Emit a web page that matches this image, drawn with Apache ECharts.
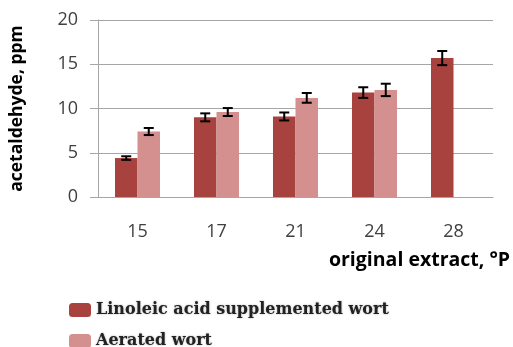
<!DOCTYPE html>
<html>
<head>
<meta charset="utf-8">
<script src="https://cdn.jsdelivr.net/npm/echarts@6/dist/echarts.min.js"></script>
<style>
  html, body { margin: 0; padding: 0; background: #fff; }
  #chart { width: 513px; height: 347px; }
</style>
</head>
<body>
<div id="chart"></div>
<script>
// Original extract of the wort (°P)
const categories = ['15', '17', '21', '24', '28'];
// Acetaldehyde, ppm
const linoleicValues = [4.4, 9.0, 9.1, 11.8, 15.7];
const linoleicErrors = [0.2, 0.45, 0.45, 0.6, 0.8];
const aeratedValues = [7.4, 9.6, 11.2, 12.1, null];
const aeratedErrors = [0.4, 0.45, 0.55, 0.7, null];
const yTicks = [0, 5, 10, 15, 20];
const seriesNames = ['Linoleic acid supplemented wort', 'Aerated wort'];

const darkRed = '#A8423F';
const lightRed = '#D4908F';

const chart = echarts.init(document.getElementById('chart'));

// Error bar drawn over the bar of series `seriesIdx` (0 = left, 1 = right)
function errorBarSeries(values, errors, seriesIdx) {
  const data = [];
  values.forEach((v, i) => { if (v != null) data.push([i, v, errors[i]]); });
  return {
    type: 'custom',
    z: 10,
    silent: true,
    renderItem: function (params, api) {
      const idx = api.value(0);
      const v = api.value(1);
      const e = api.value(2);
      const center = api.coord([idx, v]);
      const band = api.size([1, 0])[0];
      const barW = band * 0.57 / 2;
      const x = center[0] + (seriesIdx === 0 ? -barW / 2 : barW / 2);
      const top = api.coord([idx, v + e])[1];
      const bot = api.coord([idx, v - e])[1];
      const hw = 5;
      const style = { stroke: '#000', lineWidth: 2 };
      return {
        type: 'group',
        children: [
          { type: 'line', shape: { x1: x, y1: top, x2: x, y2: bot }, style: style },
          { type: 'line', shape: { x1: x - hw, y1: top, x2: x + hw, y2: top }, style: style },
          { type: 'line', shape: { x1: x - hw, y1: bot, x2: x + hw, y2: bot }, style: style }
        ]
      };
    },
    data: data
  };
}

const axisFont = '"Open Sans", Lato, sans-serif';
const legendText = {
  fontFamily: '"DejaVu Serif", "Liberation Serif", serif',
  fontWeight: 'bold',
  fontSize: 16,
  color: '#222',
  textShadowColor: 'rgba(0,0,0,0.35)',
  textShadowBlur: 2
};

function legendRow(name, top) {
  return {
    left: 64,
    top: top,
    itemWidth: 22,
    itemHeight: 14,
    icon: 'roundRect',
    data: [name],
    textStyle: legendText
  };
}

chart.setOption({
  animation: false,
  backgroundColor: '#fff',
  grid: { left: 96, right: 20, top: 20, bottom: 150, containLabel: false },
  legend: [
    legendRow(seriesNames[0], 297),
    legendRow(seriesNames[1], 328)
  ],
  xAxis: {
    type: 'category',
    data: categories,
    axisLine: { lineStyle: { color: '#A6A6A6', width: 1 } },
    axisTick: { show: false },
    axisLabel: { fontFamily: axisFont, fontSize: 18, color: '#404040', margin: 26 }
  },
  yAxis: {
    type: 'value',
    min: 0,
    max: 20,
    interval: 5,
    name: 'acetaldehyde, ppm',
    nameLocation: 'middle',
    nameGap: 72,
    nameTextStyle: { fontFamily: axisFont, fontSize: 17.5, fontWeight: 'bold', color: '#000' },
    axisLine: { show: true, lineStyle: { color: '#A6A6A6', width: 1 } },
    axisTick: { show: true, length: 8, lineStyle: { color: '#A6A6A6' } },
    axisLabel: {
      fontFamily: axisFont, fontSize: 18, color: '#404040', margin: 20,
      formatter: v => yTicks.includes(v) ? String(v) : ''
    },
    splitLine: { lineStyle: { color: '#A6A6A6', width: 1 } }
  },
  graphic: [{
    type: 'text',
    right: 3,
    top: 250,
    style: {
      text: 'original extract, °P',
      fontFamily: axisFont,
      fontSize: 19.5,
      fontWeight: 'bold',
      fill: '#000'
    }
  }],
  series: [
    {
      name: seriesNames[0],
      type: 'bar',
      data: linoleicValues,
      barGap: '0%',
      barCategoryGap: '43%',
      itemStyle: { color: darkRed }
    },
    {
      name: seriesNames[1],
      type: 'bar',
      data: aeratedValues,
      itemStyle: { color: lightRed }
    },
    errorBarSeries(linoleicValues, linoleicErrors, 0),
    errorBarSeries(aeratedValues, aeratedErrors, 1)
  ]
});
</script>
</body>
</html>
